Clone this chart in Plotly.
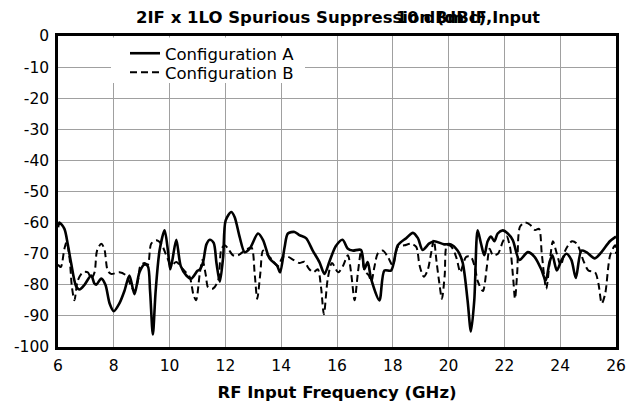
import plotly.graph_objects as go

freq_a = [6.0, 6.05, 6.23, 6.35, 6.47, 6.65, 6.77, 6.95, 7.19, 7.3, 7.37, 7.55, 7.7, 7.85, 8.0, 8.2, 8.38, 8.56,
          8.74, 8.92, 9.1, 9.22, 9.3, 9.4, 9.5, 9.64, 9.82, 9.94, 10.02, 10.1, 10.24, 10.4, 10.6, 10.78, 11.0,
          11.09, 11.2, 11.32, 11.44, 11.58, 11.68, 11.8, 11.92, 12.01, 12.21, 12.33, 12.51, 12.69, 12.87, 13.17,
          13.35, 13.58, 13.85, 13.96, 14.12, 14.24, 14.48, 14.65, 14.89, 15.13, 15.37, 15.55, 15.73, 15.96, 16.2,
          16.38, 16.56, 16.86, 16.98, 17.1, 17.22, 17.52, 17.7, 17.94, 18.18, 18.48, 18.72, 18.9, 19.07, 19.31,
          19.49, 19.84, 20.08, 20.32, 20.5, 20.68, 20.8, 20.92, 21.04, 21.16, 21.28, 21.4, 21.52, 21.64, 21.76,
          21.94, 22.12, 22.3, 22.54, 22.84, 23.08, 23.32, 23.48, 23.62, 23.72, 23.88, 24.04, 24.22, 24.4, 24.56,
          24.76, 24.94, 25.24, 25.48, 25.78, 26.0]
val_a = [-61.5, -60, -62, -67, -73, -80.5, -81.5, -80, -77, -79.5, -80, -78, -80, -86, -88.5, -86, -82, -77,
         -83, -76, -73.5, -74, -82, -96, -82, -69, -62.5, -69, -75, -72, -65.5, -74, -77, -78, -75.5,
         -75, -72.7, -67, -65.5, -66.5, -73, -79, -71, -59.3, -56.6, -58.2, -64.6, -69.5, -68.4, -63.5,
         -65.6, -71.5, -73.8, -76, -68, -63.5, -63, -64, -65, -69, -72.7, -76.5, -72.5, -67.5, -65.5,
         -68.3, -69, -68.8, -75, -72.7, -78, -85, -75.4, -75.4, -67.3, -65, -63.3, -65, -68.8, -66.7,
         -66, -67, -67, -69, -72.7, -85, -95, -85, -62.5, -66.7, -70.5, -66, -64.5, -66, -63.5,
         -62.5, -63.5, -65.6, -72, -69.5, -71, -75, -78.6, -72.7, -70.5, -75.4, -72.2, -70, -72, -77.8,
         -69, -69.5, -71.5, -69.5, -66, -64.5]

freq_b = [6.0, 6.1, 6.23, 6.31, 6.41, 6.5, 6.59, 6.71, 6.89, 7.07, 7.19, 7.31, 7.4, 7.55, 7.66, 7.78, 7.9, 8.2,
          8.44, 8.63, 8.75, 8.87, 8.95, 9.1, 9.22, 9.34, 9.52, 9.7, 9.88, 10.06, 10.24, 10.48, 10.72, 10.85,
          10.95, 11.08, 11.18, 11.3, 11.38, 11.56, 11.74, 11.86, 11.98, 12.1, 12.27, 12.45, 12.69, 12.93, 13.05,
          13.14, 13.25, 13.35, 13.52, 13.68, 13.88, 14.06, 14.24, 14.44, 14.65, 14.83, 14.99, 15.15, 15.31,
          15.43, 15.53, 15.67, 15.82, 16.04, 16.21, 16.39, 16.51, 16.63, 16.75, 16.87, 16.99, 17.14, 17.23,
          17.34, 17.46, 17.64, 17.82, 18.0, 18.18, 18.42, 18.66, 18.84, 18.96, 19.11, 19.25, 19.37, 19.47,
          19.57, 19.67, 19.76, 19.86, 19.94, 20.1, 20.27, 20.42, 20.5, 20.63, 20.8, 20.93, 21.05, 21.23, 21.37,
          21.47, 21.59, 21.77, 21.95, 22.08, 22.2, 22.32, 22.38, 22.46, 22.56, 22.74, 22.92, 23.1, 23.24, 23.34,
          23.5, 23.62, 23.74, 23.88, 24.02, 24.18, 24.42, 24.6, 24.83, 25.01, 25.25, 25.37, 25.49, 25.61,
          25.79, 25.97, 26.0]
val_b = [-73.5, -74.3, -68.4, -66.2, -71, -80.8, -85, -78.6, -76, -76, -78, -76, -69, -66.8, -68.4, -75.4, -76.5, -76,
         -77, -80.6, -82, -78.5, -74, -73, -73.5, -66.8, -65.7, -66.8, -70.5, -73.7, -72.7, -75, -77.5, -83,
         -85, -76.5, -72, -77, -80.8, -81.2, -78.6, -68.4, -67.3, -68.4, -70.5, -70.5, -69, -68, -76.5,
         -84.5, -76.5, -69, -70.5, -72, -74, -71, -71, -72, -73, -72.6, -74.8, -76, -75,
         -81, -89.5, -78, -73, -76, -74, -70.5, -76.5, -85, -76, -69, -75.5, -77, -79,
         -74.3, -70, -69, -71, -73.8, -67.8, -67.3, -66.8, -67.8, -73.8, -77.4, -75.3, -70, -65.6,
         -72.7, -79.6, -84.5, -77, -67.3, -67.8, -71, -76, -74, -71, -71, -74, -79, -82, -74.3,
         -68.4, -70.5, -70, -66, -64.5, -67.8, -78.6, -84.5, -76, -61.3, -60, -60.7, -62.4, -62, -70,
         -81.3, -73, -66, -70, -73.8, -69, -66, -66.8, -72.2, -75.4, -76, -79.6, -86, -83,
         -70.5, -67.3, -70]

x_ticks = [6, 8, 10, 12, 14, 16, 18, 20, 22, 24, 26]
y_ticks = [0, -10, -20, -30, -40, -50, -60, -70, -80, -90, -100]

FONT = "DejaVu Sans"
# the page has an 8px body margin; figure coords = page coords - 8
W, H = 636, 395
ML, MR, MT, MB = 50, 28, 28, 56
PW, PH = W - ML - MR, H - MT - MB


def px(xp):
    return (xp - ML) / PW


def py(yp):
    return 1 - (yp - MT) / PH


fig = go.Figure()
fig.add_trace(go.Scatter(x=freq_a, y=val_a, mode="lines", name="Configuration A", legend="legend",
                         line=dict(color="black", width=2.6, shape="spline", smoothing=0.8)))
fig.add_trace(go.Scatter(x=freq_b, y=val_b, mode="lines", name="Configuration B", legend="legend2",
                         line=dict(color="black", width=2, dash="7px,4px", shape="spline", smoothing=0.8)))

leg_common = dict(xanchor="left", yanchor="top", bgcolor="rgba(0,0,0,0)", borderwidth=0,
                  font=dict(family=FONT, size=16.5, color="black"))

fig.update_layout(
    width=W, height=H,
    margin=dict(l=ML, r=MR, t=MT, b=MB, autoexpand=False),
    paper_bgcolor="white", plot_bgcolor="white",
    font=dict(family=FONT, size=16, color="black"),
    showlegend=True,
    legend=dict(x=px(117), y=py(28), **leg_common),
    legend2=dict(x=px(117), y=py(47), **leg_common),
    xaxis=dict(range=[6, 26], tickvals=x_ticks, ticktext=[str(v) for v in x_ticks],
               showgrid=True, gridcolor="#a0a0a0", gridwidth=1,
               showline=True, linecolor="black", linewidth=2.5, mirror=True,
               ticks="outside", ticklen=3, tickcolor="rgba(0,0,0,0)", zeroline=False, automargin=False,
               tickfont=dict(family=FONT, size=15.5),
               title=dict(text="<b>RF Input Frequency (GHz)</b>", font=dict(family=FONT, size=16.5), standoff=13)),
    yaxis=dict(range=[-100, 0], tickvals=y_ticks, ticktext=[str(v) for v in y_ticks],
               showgrid=True, gridcolor="#a0a0a0", gridwidth=1,
               showline=True, linecolor="black", linewidth=2.5, mirror=True,
               ticks="outside", ticklen=3, tickcolor="rgba(0,0,0,0)", zeroline=False, automargin=False,
               tickfont=dict(family=FONT, size=15.5)),
    shapes=[dict(type="rect", xref="paper", yref="paper", layer="above",
                 x0=px(103), x1=px(297), y0=py(75), y1=py(29.5),
                 fillcolor="white", line=dict(width=0))],
)

ty = py(10)
fig.add_annotation(text="<b>2IF x 1LO Spurious Suppression (dBc),</b>", xref="paper", yref="paper",
                   x=px(126), y=ty, xanchor="left", yanchor="middle",
                   showarrow=False, font=dict(family=FONT, size=16.5, color="black"))
fig.add_annotation(text="<b>10 dBm IF Input</b>", xref="paper", yref="paper",
                   x=px(534), y=ty, xanchor="right", yanchor="middle",
                   showarrow=False, font=dict(family=FONT, size=16, color="black"))

fig.write_html("out.html")
